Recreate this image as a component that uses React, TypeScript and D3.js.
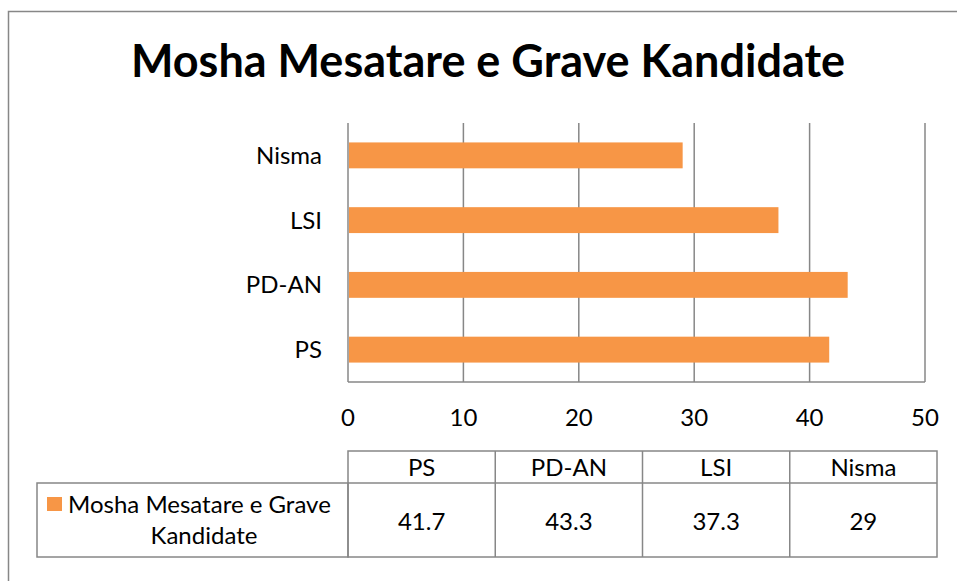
import React, { useEffect, useRef } from 'react';
import * as d3 from 'd3';

const title = 'Mosha Mesatare e Grave Kandidate';
const seriesName = 'Mosha Mesatare e Grave Kandidate';
const seriesLines = ['Mosha Mesatare e Grave', 'Kandidate'];
const parties = ['PS', 'PD-AN', 'LSI', 'Nisma'];
const ages = [41.7, 43.3, 37.3, 29];
const xTicks = [0, 10, 20, 30, 40, 50];

const App = () => {
  const svgRef = useRef<SVGSVGElement>(null);

  useEffect(() => {
    const svg = d3.select(svgRef.current);
    svg.selectAll('*').remove();

    const width = 957;
    const height = 581;
    const font = 'Lato, Carlito, "Open Sans", sans-serif';
    const fs = 24;
    const grey = '#878787';
    const orange = '#F79646';
    const plot = { left: 348, right: 925, top: 123, bottom: 382 };

    svg.attr('viewBox', [0, 0, width, height]);

    // outer chart frame (runs off the page right and bottom)
    svg.append('rect')
      .attr('x', 8.5).attr('y', 11.5)
      .attr('width', 1000).attr('height', 1000)
      .attr('fill', 'white')
      .attr('stroke', grey).attr('stroke-width', 1.5);

    svg.append('text')
      .attr('x', 488).attr('y', 77)
      .attr('text-anchor', 'middle')
      .attr('font-family', font)
      .attr('font-weight', 'bold')
      .attr('font-size', 45)
      .text(title);

    const x = d3.scaleLinear()
      .domain([0, 50])
      .range([plot.left, plot.right]);

    // bottom to top: PS first
    const y = d3.scaleBand<string>()
      .domain(parties.slice().reverse())
      .range([plot.top, plot.bottom])
      .paddingInner(0.6)
      .paddingOuter(0.3);

    // gridlines
    svg.append('g')
      .selectAll('line')
      .data(xTicks)
      .join('line')
      .attr('x1', d => x(d)).attr('x2', d => x(d))
      .attr('y1', plot.top).attr('y2', plot.bottom)
      .attr('stroke', grey).attr('stroke-width', 1.5);

    svg.append('line')
      .attr('x1', plot.left).attr('x2', plot.right)
      .attr('y1', plot.bottom).attr('y2', plot.bottom)
      .attr('stroke', grey).attr('stroke-width', 1.5);

    svg.append('g')
      .selectAll('rect')
      .data(parties)
      .join('rect')
      .attr('x', x(0) + 1)
      .attr('y', (d) => y(d)!)
      .attr('width', (d, i) => x(ages[i]) - x(0) - 1)
      .attr('height', y.bandwidth())
      .attr('fill', orange);

    // x tick labels
    svg.append('g')
      .selectAll('text')
      .data(xTicks)
      .join('text')
      .attr('x', d => x(d))
      .attr('y', 426)
      .attr('text-anchor', 'middle')
      .attr('font-family', font)
      .attr('font-size', fs)
      .text(d => d);

    // category labels
    svg.append('g')
      .selectAll('text')
      .data(parties)
      .join('text')
      .attr('x', 322)
      .attr('y', d => y(d)! + y.bandwidth() / 2)
      .attr('dy', '0.35em')
      .attr('text-anchor', 'end')
      .attr('font-family', font)
      .attr('font-size', fs)
      .text(d => d);

    // data table
    const col = d3.scaleBand<string>()
      .domain(parties)
      .range([348, 937]);
    const rowTop = 451, rowMid = 483, rowBottom = 557;
    const tbl = svg.append('g')
      .attr('stroke', grey).attr('stroke-width', 1.5).attr('fill', 'none');

    tbl.append('rect')
      .attr('x', 348).attr('y', rowTop)
      .attr('width', 937 - 348).attr('height', rowBottom - rowTop);
    tbl.append('rect')
      .attr('x', 37).attr('y', rowMid)
      .attr('width', 348 - 37).attr('height', rowBottom - rowMid);
    tbl.append('line')
      .attr('x1', 348).attr('x2', 937)
      .attr('y1', rowMid).attr('y2', rowMid);
    tbl.selectAll('line.col')
      .data(parties.slice(1))
      .join('line')
      .attr('class', 'col')
      .attr('x1', d => col(d)!).attr('x2', d => col(d)!)
      .attr('y1', rowTop).attr('y2', rowBottom);

    svg.append('g')
      .selectAll('text')
      .data(parties)
      .join('text')
      .attr('x', d => col(d)! + col.bandwidth() / 2)
      .attr('y', 476)
      .attr('text-anchor', 'middle')
      .attr('font-family', font)
      .attr('font-size', fs)
      .text(d => d);

    svg.append('g')
      .selectAll('text')
      .data(ages)
      .join('text')
      .attr('x', (d, i) => col(parties[i])! + col.bandwidth() / 2)
      .attr('y', 530)
      .attr('text-anchor', 'middle')
      .attr('font-family', font)
      .attr('font-size', fs)
      .text(d => d);

    // legend key inside the table
    svg.append('rect')
      .attr('x', 47).attr('y', 497)
      .attr('width', 15).attr('height', 14)
      .attr('fill', orange);

    svg.append('text')
      .attr('x', 68).attr('y', 513)
      .attr('font-family', font)
      .attr('font-size', fs)
      .text(seriesLines[0]);
    svg.append('text')
      .attr('x', 204).attr('y', 544)
      .attr('text-anchor', 'middle')
      .attr('font-family', font)
      .attr('font-size', fs)
      .text(seriesLines[1]);
    svg.append('title').text(seriesName);
  }, []);

  return (
    <svg
      ref={svgRef}
      width={957}
      height={581}
      style={{ position: 'absolute', left: 0, top: 0, display: 'block' }}
    ></svg>
  );
};

export default App;
